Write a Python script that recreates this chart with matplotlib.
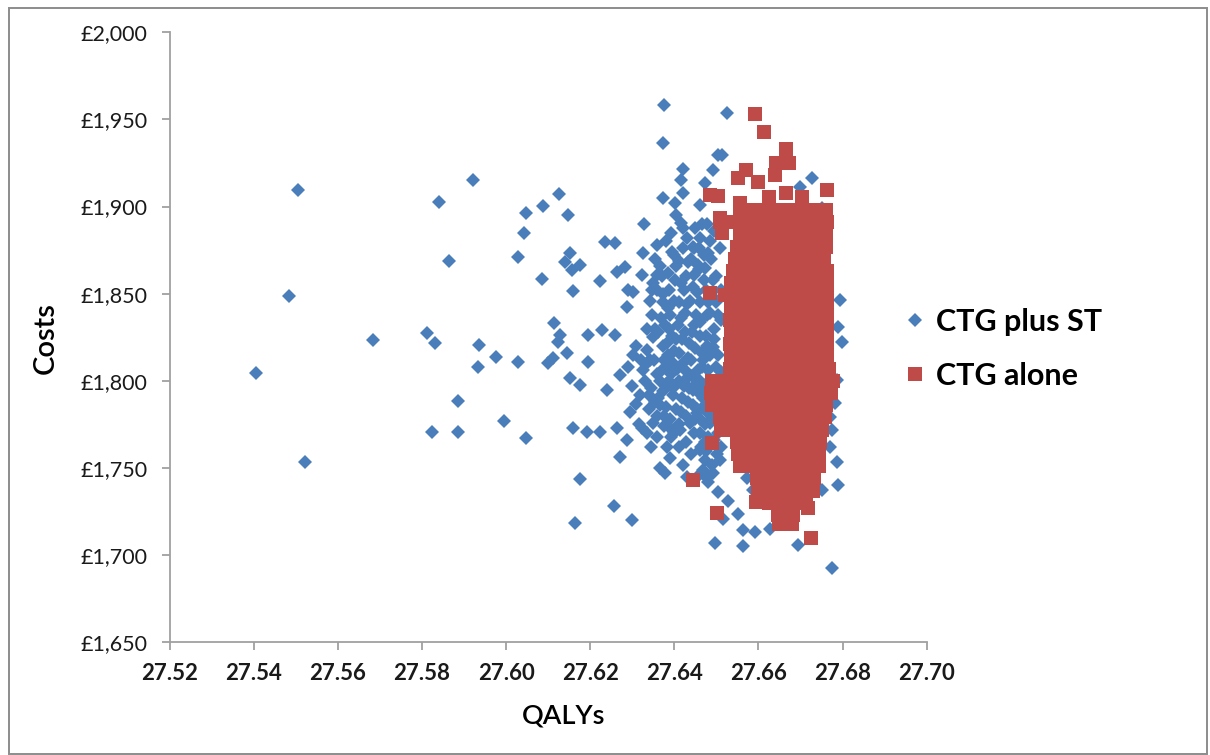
import matplotlib
matplotlib.use("Agg")
import matplotlib.pyplot as plt
from matplotlib.ticker import FuncFormatter
from matplotlib.patches import Rectangle

# ---------------- data ----------------
# CTG plus ST (blue diamonds): outlying points
blue_qaly = [
    27.5405, 27.5484, 27.5505, 27.5522, 27.5684, 27.5812, 27.5831, 27.5921, 27.5841, 27.5864,
    27.6047, 27.6043, 27.6028, 27.5936, 27.5976, 27.5933, 27.6028, 27.5886, 27.5995, 27.5824,
    27.5886, 27.6047, 27.6375, 27.6373, 27.6421, 27.6416, 27.6421, 27.6373, 27.6402, 27.6504,
    27.6492, 27.6126, 27.6088, 27.6147, 27.6328, 27.6416, 27.6466, 27.6235, 27.6259, 27.6152,
    27.6140, 27.6176, 27.6157, 27.6325, 27.6085, 27.6223, 27.6159, 27.6264, 27.6283, 27.6290,
    27.6302, 27.6347, 27.6323, 27.6359, 27.6288, 27.6114, 27.6128, 27.6124, 27.6145, 27.6195,
    27.6228, 27.6259, 27.6100, 27.6112, 27.6195, 27.6152, 27.6176, 27.6240, 27.6271, 27.6302,
    27.6335, 27.6159, 27.6192, 27.6223, 27.6264, 27.6323, 27.6288, 27.6271, 27.6176, 27.6257,
    27.6300, 27.6164, 27.6378, 27.6395, 27.6473, 27.6509, 27.6492, 27.6478, 27.6504, 27.6528,
    27.6551, 27.6516, 27.6563, 27.6592, 27.6627, 27.6497, 27.6563, 27.6694, 27.6775, 27.6789,
    27.6751, 27.6787, 27.6770, 27.6573, 27.6587, 27.6461, 27.6794, 27.6789, 27.6799, 27.6787,
    27.6782, 27.6770, 27.6775, 27.6461, 27.6485, 27.6492, 27.6468, 27.6516, 27.6454, 27.6485,
    27.6468, 27.6594, 27.6525, 27.6513, 27.6473, 27.6461, 27.6727, 27.6699, 27.6751, 27.6444,
    27.6480, 27.6456, 27.6473, 27.6502, 27.6480,
]
blue_cost = [
    1804.4, 1848.7, 1909.5, 1753.4, 1823.5, 1827.5, 1821.7, 1915.3, 1902.6, 1868.8,
    1896.3, 1884.8, 1871.1, 1820.6, 1813.7, 1808.0, 1810.8, 1788.4, 1777.0, 1770.7,
    1770.7, 1767.2, 1958.3, 1936.5, 1921.6, 1915.3, 1907.8, 1904.9, 1902.1, 1929.6,
    1921.0, 1907.2, 1900.3, 1895.2, 1890.0, 1890.6, 1890.0, 1879.7, 1879.1, 1873.4,
    1868.2, 1866.5, 1863.6, 1873.4, 1858.4, 1857.3, 1851.6, 1862.5, 1865.4, 1852.2,
    1851.0, 1852.2, 1860.7, 1860.7, 1842.4, 1833.2, 1826.3, 1822.3, 1816.0, 1826.3,
    1829.2, 1826.3, 1810.3, 1813.2, 1810.8, 1801.6, 1797.6, 1794.8, 1803.4, 1814.8,
    1810.3, 1772.9, 1770.7, 1770.7, 1772.9, 1772.9, 1766.1, 1756.3, 1743.7, 1728.2,
    1720.2, 1718.4, 1747.1, 1771.8, 1754.6, 1754.6, 1747.1, 1744.2, 1736.2, 1731.0,
    1723.6, 1720.7, 1714.4, 1713.3, 1715.0, 1706.9, 1705.2, 1705.8, 1692.6, 1740.3,
    1737.4, 1753.4, 1762.0, 1744.2, 1737.4, 1760.3, 1846.4, 1830.9, 1822.3, 1800.5,
    1787.3, 1779.3, 1771.8, 1834.9, 1838.9, 1819.4, 1812.0, 1800.5, 1781.6, 1775.9,
    1748.9, 1766.1, 1953.7, 1929.6, 1913.5, 1900.9, 1916.4, 1911.2, 1899.2, 1876.8,
    1873.4, 1866.5, 1765.0, 1758.0, 1742.0,
]
# CTG plus ST: dense core of the cloud
blue_core_qaly = [
    27.6380, 27.6395, 27.6412, 27.6430, 27.6448, 27.6365, 27.6402, 27.6422, 27.6438, 27.6455,
    27.6470, 27.6480, 27.6372, 27.6390, 27.6408, 27.6425, 27.6442, 27.6460, 27.6475, 27.6362,
    27.6383, 27.6400, 27.6418, 27.6433, 27.6450, 27.6466, 27.6484, 27.6352, 27.6370, 27.6388,
    27.6406, 27.6424, 27.6441, 27.6458, 27.6476, 27.6345, 27.6362, 27.6380, 27.6398, 27.6415,
    27.6432, 27.6450, 27.6468, 27.6486, 27.6358, 27.6375, 27.6393, 27.6410, 27.6428, 27.6446,
    27.6463, 27.6480, 27.6390, 27.6420, 27.6440, 27.6455, 27.6330, 27.6318, 27.6340, 27.6325,
    27.6335, 27.6350, 27.6348, 27.6360, 27.6355, 27.6310, 27.6300, 27.6295, 27.6315, 27.6345,
    27.6365, 27.6490, 27.6495, 27.6500, 27.6488, 27.6497, 27.6505, 27.6490,
    27.6470, 27.6485, 27.6500, 27.6510, 27.6505, 27.6498, 27.6510, 27.6512, 27.6478, 27.6462,
    27.6452, 27.6436, 27.6420, 27.6412, 27.6398, 27.6385, 27.6372, 27.6378, 27.6395, 27.6410,
    27.6428, 27.6440, 27.6458, 27.6472, 27.6492, 27.6466, 27.6480, 27.6460, 27.6444, 27.6430,
    27.6418, 27.6405, 27.6390, 27.6372, 27.6355, 27.6340, 27.6365, 27.6380, 27.6438, 27.6455,
    27.6472, 27.6490, 27.6462, 27.6475, 27.6430, 27.6410, 27.6382, 27.6400, 27.6350, 27.6370,
    27.6388, 27.6405, 27.6420, 27.6450, 27.6392, 27.6360, 27.6335, 27.6320, 27.6308, 27.6290,
    27.6448, 27.6462, 27.6478, 27.6494, 27.6505, 27.6492, 27.6476, 27.6458, 27.6444, 27.6430,
    27.6415, 27.6400, 27.6386, 27.6368, 27.6355, 27.6342, 27.6358, 27.6375, 27.6392, 27.6410,
    27.6426, 27.6440, 27.6456, 27.6470, 27.6488, 27.6503, 27.6510, 27.6495, 27.6478, 27.6460,
    27.6445, 27.6428, 27.6414, 27.6396, 27.6380, 27.6365, 27.6350, 27.6335, 27.6360, 27.6376,
    27.6422, 27.6436, 27.6452, 27.6468, 27.6405, 27.6388, 27.6372, 27.6385, 27.6400, 27.6415,
    27.6432, 27.6446, 27.6462, 27.6478, 27.6494, 27.6508, 27.6512, 27.6420, 27.6405, 27.6342,
]
blue_core_cost = [
    1880, 1874, 1869, 1882, 1861, 1866, 1858, 1852, 1846, 1851,
    1858, 1845, 1845, 1838, 1832, 1839, 1828, 1834, 1826, 1828,
    1822, 1817, 1824, 1813, 1819, 1808, 1815, 1812, 1806, 1800,
    1807, 1797, 1803, 1793, 1798, 1796, 1790, 1785, 1792, 1782,
    1788, 1778, 1785, 1790, 1780, 1774, 1768, 1775, 1765, 1770,
    1762, 1768, 1756, 1752, 1758, 1745, 1800, 1792, 1784, 1806,
    1818, 1825, 1838, 1852, 1870, 1787, 1797, 1782, 1775, 1762,
    1750, 1800, 1830, 1860, 1870, 1780, 1770, 1752,
    1872, 1880, 1845, 1835, 1815, 1808, 1790, 1762, 1838, 1845,
    1838, 1822, 1810, 1800, 1810, 1815, 1820, 1832, 1826, 1845,
    1860, 1870, 1876, 1865, 1858, 1816, 1806, 1800, 1795, 1805,
    1790, 1784, 1778, 1794, 1788, 1792, 1800, 1808, 1776, 1784,
    1775, 1778, 1770, 1760, 1745, 1762, 1762, 1770, 1856, 1860,
    1852, 1866, 1876, 1888, 1885, 1878, 1830, 1812, 1820, 1808,
    1832, 1826, 1820, 1824, 1838, 1848, 1852, 1864, 1854, 1844,
    1836, 1846, 1842, 1836, 1830, 1812, 1804, 1812, 1804, 1816,
    1828, 1812, 1806, 1796, 1786, 1796, 1805, 1766, 1782, 1778,
    1786, 1780, 1772, 1796, 1798, 1786, 1776, 1770, 1768, 1780,
    1800, 1796, 1798, 1790, 1824, 1830, 1850, 1862, 1872, 1856,
    1868, 1876, 1882, 1890, 1886, 1876, 1852, 1888, 1895, 1846,
]

# CTG alone (red squares): compact block, listed row by row (cost -> QALYs)
red_rows = {
    1898: [27.6555, 27.6585, 27.6615, 27.6645, 27.6675, 27.6705, 27.6735, 27.6760],
    1891: [27.6509, 27.6540, 27.6570, 27.6600, 27.6630, 27.6660, 27.6690, 27.6720, 27.6750, 27.6762],
    1884: [27.6555, 27.6585, 27.6615, 27.6645, 27.6675, 27.6705, 27.6735, 27.6760],
    1877: [27.6550, 27.6580, 27.6610, 27.6640, 27.6670, 27.6700, 27.6730, 27.6760],
    1870: [27.6545, 27.6575, 27.6605, 27.6635, 27.6665, 27.6695, 27.6725, 27.6755],
    1863: [27.6540, 27.6570, 27.6600, 27.6630, 27.6660, 27.6690, 27.6720, 27.6750, 27.6764],
    1856: [27.6535, 27.6565, 27.6595, 27.6625, 27.6655, 27.6685, 27.6715, 27.6745, 27.6762],
    1849: [27.6533, 27.6562, 27.6592, 27.6622, 27.6652, 27.6682, 27.6712, 27.6742, 27.6762],
    1842: [27.6535, 27.6565, 27.6595, 27.6625, 27.6655, 27.6685, 27.6715, 27.6745, 27.6764],
    1835: [27.6533, 27.6562, 27.6592, 27.6622, 27.6652, 27.6682, 27.6712, 27.6742, 27.6762],
    1828: [27.6535, 27.6565, 27.6595, 27.6625, 27.6655, 27.6685, 27.6715, 27.6745, 27.6763],
    1821: [27.6533, 27.6562, 27.6592, 27.6622, 27.6652, 27.6682, 27.6712, 27.6742, 27.6762],
    1814: [27.6535, 27.6565, 27.6595, 27.6625, 27.6655, 27.6685, 27.6715, 27.6745, 27.6764],
    1807: [27.6533, 27.6562, 27.6592, 27.6622, 27.6652, 27.6682, 27.6712, 27.6742, 27.6768],
    1800: [27.6490, 27.6520, 27.6550, 27.6580, 27.6610, 27.6640, 27.6670, 27.6700, 27.6730, 27.6758, 27.6778],
    1793: [27.6488, 27.6518, 27.6548, 27.6578, 27.6608, 27.6638, 27.6668, 27.6698, 27.6728, 27.6755, 27.6772],
    1786: [27.6490, 27.6520, 27.6550, 27.6580, 27.6610, 27.6640, 27.6670, 27.6700, 27.6730, 27.6760],
    1779: [27.6509, 27.6538, 27.6568, 27.6598, 27.6628, 27.6658, 27.6688, 27.6718, 27.6748, 27.6758],
    1772: [27.6512, 27.6540, 27.6570, 27.6600, 27.6630, 27.6660, 27.6690, 27.6720, 27.6750],
    1765: [27.6550, 27.6580, 27.6610, 27.6640, 27.6670, 27.6700, 27.6730, 27.6747],
    1758: [27.6552, 27.6582, 27.6612, 27.6642, 27.6672, 27.6702, 27.6732, 27.6745],
    1751: [27.6555, 27.6585, 27.6615, 27.6645, 27.6675, 27.6705, 27.6735, 27.6745],
    1744: [27.6597, 27.6627, 27.6657, 27.6687, 27.6717, 27.6731],
    1737: [27.6600, 27.6630, 27.6660, 27.6690, 27.6720, 27.6729],
    1730: [27.6625, 27.6655, 27.6685, 27.6712],
    1723: [27.6646, 27.6670, 27.6683],
    1718: [27.6650, 27.6680],
}
# CTG alone: points outside the block
red_out_qaly = [27.6593, 27.6613, 27.6665, 27.6642, 27.6673, 27.6570, 27.6551, 27.6599, 27.6640,
                27.6763, 27.6485, 27.6504, 27.6555, 27.6626, 27.6666, 27.6704, 27.6509, 27.6514,
                27.6485, 27.6521, 27.6490, 27.6445, 27.6502, 27.6594, 27.6719, 27.6724]
red_out_cost = [1953.1, 1943.0, 1933.0, 1925.0, 1925.0, 1921.0, 1916.4, 1914.1, 1918.1,
                1909.5, 1906.7, 1906.1, 1902.1, 1905.5, 1907.8, 1905.5, 1893.4, 1884.8,
                1850.4, 1849.3, 1764.3, 1743.1, 1724.1, 1730.5, 1727.0, 1709.8]

series_labels = ["CTG plus ST", "CTG alone"]
x_ticks = [27.52, 27.54, 27.56, 27.58, 27.60, 27.62, 27.64, 27.66, 27.68, 27.70]
y_ticks = [1650, 1700, 1750, 1800, 1850, 1900, 1950, 2000]

# ---------------- drawing ----------------
plt.rcParams['font.family'] = ['Lato', 'DejaVu Sans']
W, H = 1210, 755
fig = plt.figure(figsize=(W / 100, H / 100), dpi=100)
fig.patch.set_facecolor('white')
fig.patches.append(Rectangle((9 / W, 1 / H), 1198 / W, 746 / H, transform=fig.transFigure,
                             fill=False, edgecolor='#8c8c8c', linewidth=1.4))

ax = fig.add_axes([169.5 / W, 1 - 642.3 / H, (926.7 - 169.5) / W, (642.3 - 32.3) / H])

blue = '#4a7ebb'
red = '#be4b48'

bq = blue_qaly + blue_core_qaly
bc = blue_cost + blue_core_cost
rq, rc = [], []
for c, qs in red_rows.items():
    for q in qs:
        rq.append(q)
        rc.append(c)
rq += red_out_qaly
rc += red_out_cost

h1, = ax.plot(bq, bc, linestyle='none', marker='D', markersize=7.2, color=blue,
              markeredgewidth=0, label=series_labels[0], clip_on=False)
h2, = ax.plot(rq, rc, linestyle='none', marker='s', markersize=10.6, color=red,
              markeredgewidth=0, label=series_labels[1], clip_on=False)

ax.set_xlim(27.52, 27.70)
ax.set_ylim(1650, 2000)
ax.set_xticks(x_ticks)
ax.set_yticks(y_ticks)
ax.xaxis.set_major_formatter(FuncFormatter(lambda v, p: f"{v:.2f}"))
ax.yaxis.set_major_formatter(FuncFormatter(lambda v, p: f"£{v:,.0f}"))

for s in ['top', 'right']:
    ax.spines[s].set_visible(False)
for s in ['left', 'bottom']:
    ax.spines[s].set_color('#a0a0a0')
    ax.spines[s].set_linewidth(1.3)
ax.tick_params(axis='both', direction='out', length=6, width=1.3, color='#a0a0a0')
ax.tick_params(axis='y', labelsize=15.5, pad=10, labelcolor='#1a1a1a')
ax.tick_params(axis='x', labelsize=16, pad=9, labelcolor='#1a1a1a')
for t in ax.get_xticklabels():
    t.set_fontweight('bold')

fig.text(46 / W, 1 - 338 / H, "Costs", rotation=90, ha='center', va='center',
         fontsize=21, color='black', fontweight='semibold')
fig.text(564 / W, 1 - 716 / H, "QALYs", ha='center', va='center',
         fontsize=19.5, color='black', fontweight='semibold')

leg = fig.legend(handles=[h1, h2], loc='center left',
                 bbox_to_anchor=(904 / W, 1 - 349 / H), frameon=False,
                 fontsize=22, handlelength=0.75, handletextpad=0.3, labelspacing=0.85,
                 borderaxespad=0, borderpad=0)
for t in leg.get_texts():
    t.set_fontweight('bold')

fig.savefig('out.png', dpi=100, facecolor='white')
